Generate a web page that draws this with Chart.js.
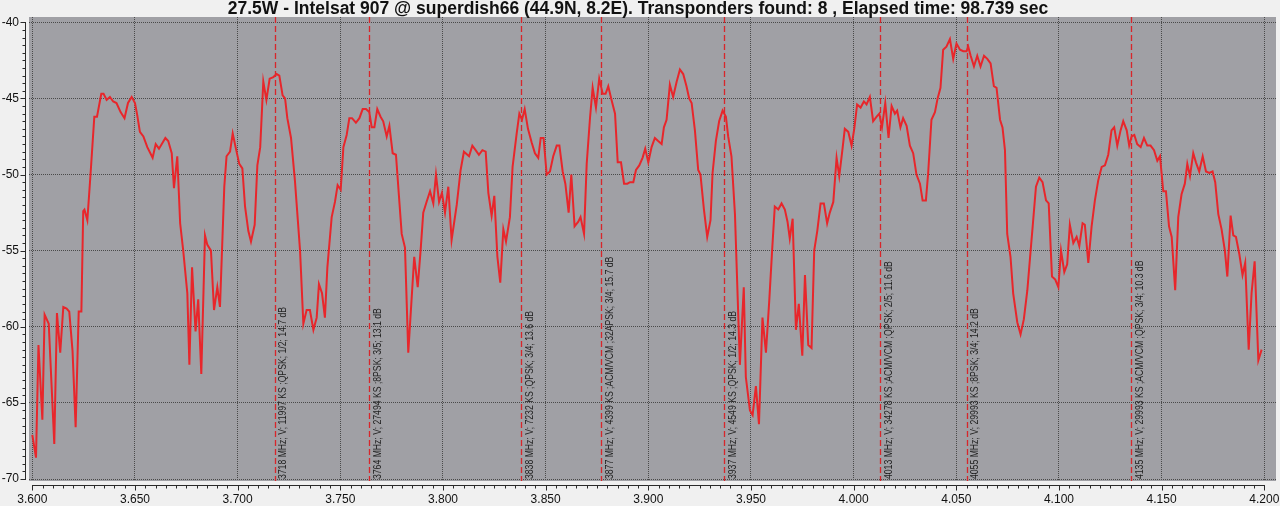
<!DOCTYPE html>
<html>
<head>
<meta charset="utf-8">
<script src="https://cdn.jsdelivr.net/npm/chart.js@4.4.1/dist/chart.umd.min.js"></script>
<style>
html,body{margin:0;padding:0;background:#f0f0f0;}
#wrap{width:1280px;height:506px;}
</style>
</head>
<body>
<div id="wrap"><canvas id="c" width="1280" height="506"></canvas></div>
<script>
const titleText = "27.5W - Intelsat 907 @ superdish66 (44.9N, 8.2E). Transponders found: 8 , Elapsed time: 98.739 sec";

const freqMHz = [
3600.0,3601.8,3603.0,3604.9,3606.0,3608.0,3610.7,3612.0,3613.6,3615.1,3616.7,3618.0,3619.6,3621.1,3622.6,3623.9,3624.8,3625.4,3626.8,3628.4,
3630.2,3631.5,3633.6,3634.7,3636.2,3637.8,3639.4,3641.0,3643.0,3644.9,3646.6,3648.4,3650.0,3651.1,3652.4,3654.1,3656.0,3658.6,3660.1,3661.7,
3663.5,3664.8,3666.2,3667.9,3669.0,3670.6,3672.0,3673.5,3675.5,3676.5,3677.8,3679.5,3680.8,3682.3,3684.1,3685.2,3687.0,3688.5,3690.1,3691.4,
3693.5,3694.6,3696.3,3697.6,3699.0,3700.8,3702.3,3703.6,3705.2,3706.5,3708.3,3709.6,3711.0,3712.5,3714.0,3715.6,3717.4,3719.0,3720.3,3721.9,
3723.1,3724.2,3726.0,3727.9,3730.4,3732.0,3733.6,3735.2,3736.9,3738.5,3739.6,3741.1,3742.5,
3743.7,3745.8,3747.4,3748.7,3750.2,3751.5,3753.1,3754.4,3755.7,3757.6,3759.3,3760.9,3762.5,3764.1,3765.3,3766.6,3768.0,3769.6,3770.9,3772.6,
3773.9,3775.5,3777.1,3779.9,3781.5,3783.1,3786.0,3787.7,3789.1,3790.4,3792.0,3793.7,3795.3,3796.6,3798.1,3799.5,3801.0,3802.6,3804.2,3806.7,
3808.6,3810.2,3812.7,3814.3,3815.9,3817.5,3819.2,3820.8,3822.1,3823.7,3825.0,3826.5,3827.9,3829.4,3830.7,3832.6,3833.9,3835.9,3837.2,3838.5,
3839.8,3841.4,3843.2,3844.8,3846.4,3847.6,3849.0,3850.5,3852.1,3853.7,3855.4,3856.7,3858.3,3859.6,3861.2,3862.5,3864.1,3865.9,3867.0,3868.7,
3870.0,3871.6,3872.9,3874.5,3876.1,3877.8,3879.2,3880.5,3882.1,3883.8,3885.1,3886.7,3888.2,3889.8,3891.1,3892.7,3894.0,3895.6,3897.2,3898.5,
3900.0,3901.6,3903.2,3904.8,3906.5,3907.6,3908.9,3910.5,3912.1,3913.8,3915.4,3917.0,3918.6,3919.9,3921.1,3922.7,3924.3,3925.4,3927.1,3928.7,
3930.3,3931.3,3932.9,3934.5,3936.2,3937.8,3938.9,3940.5,3942.2,3944.6,3946.5,3947.5,3949.5,3950.8,3952.4,3953.9,3955.6,3957.3,3958.9,3960.3,
3961.6,3963.3,3964.9,3966.5,3967.8,3968.9,3970.3,3971.9,3973.3,3975.0,3976.3,3977.9,3979.5,3980.8,3982.3,3983.9,3985.5,3987.1,3988.4,3990.1,
3991.7,3993.0,3994.6,3995.7,3997.4,3999.0,4000.3,4001.7,4003.4,4005.0,4006.3,4007.9,4009.5,4011.2,4012.5,4013.8,4015.4,4017.0,4018.5,4020.1,
4021.2,4022.8,4024.1,4025.8,4027.4,4029.0,4030.6,4032.3,4033.6,4035.2,4036.3,4037.9,4039.6,4040.9,4042.3,4043.6,4045.2,
4046.9,4048.5,4050.1,4051.8,4053.4,4055.0,4055.8,4057.0,4058.6,4060.2,4061.8,4063.5,4065.1,4066.7,4068.3,4069.6,4071.3,4072.5,4073.7,4074.8,
4076.4,4077.7,4079.7,4081.3,4082.9,4084.6,4086.2,4087.2,4088.8,4090.4,4092.0,4093.7,4095.0,4096.6,4098.2,4099.7,4101.0,4102.6,4104.0,4105.3,
4107.0,4108.6,4109.9,4111.5,4112.6,4114.3,4115.9,4117.5,4119.1,4120.8,4122.4,4124.0,4125.6,4126.9,4128.4,4130.0,4131.3,4133.0,4134.2,4135.4,
4136.7,4138.1,4139.8,4141.4,4143.0,4144.6,4146.3,4147.9,4149.2,4150.8,4152.1,4153.6,4154.9,4156.6,4158.1,4159.7,4161.3,4162.5,4163.8,4165.4,
4166.7,4168.3,4170.0,4171.6,4173.2,4174.8,4176.1,4177.6,4179.2,4180.8,4182.0,4183.6,4184.9,4186.2,4187.8,4189.4,4190.7,4192.4,4193.8,4195.3,
4197.1,4198.7
];

const levelDb = [
-67.1,-68.6,-61.2,-66.1,-59.2,-59.8,-67.7,-59.1,-61.7,-58.7,-58.8,-59.0,-61.6,-66.6,-59.0,-59.0,-52.4,-52.3,-53.0,-49.9,
-46.2,-46.2,-44.7,-44.7,-45.1,-44.9,-45.2,-45.3,-45.9,-46.3,-45.3,-44.9,-45.3,-46.1,-47.2,-47.5,-48.2,-48.9,-48.0,-48.3,
-47.9,-47.6,-47.8,-48.6,-50.9,-48.8,-53.2,-55.0,-57.8,-62.5,-56.1,-60.3,-58.2,-63.1,-54.0,-54.6,-55.0,-58.9,-57.4,-58.7,
-50.8,-48.8,-48.5,-47.3,-48.2,-49.3,-49.6,-52.1,-53.7,-54.4,-53.3,-49.4,-48.2,-43.9,-45.1,-43.7,-43.6,-43.4,-43.5,-44.8,
-45.0,-46.3,-47.6,-50.4,-55.0,-59.8,-58.9,-58.9,-60.2,-59.4,-57.2,-57.8,-59.4,
-56.1,-52.8,-51.8,-50.7,-51.0,-48.2,-47.4,-46.3,-46.3,-46.6,-46.3,-45.7,-45.7,-45.9,-46.9,-46.9,-45.7,-46.2,-46.5,-47.5,
-46.8,-48.6,-48.7,-53.9,-54.8,-61.7,-55.4,-57.4,-55.0,-52.5,-51.8,-51.1,-51.9,-50.0,-51.8,-51.2,-52.5,-50.8,-54.3,-52.0,
-49.7,-48.5,-48.8,-48.1,-48.4,-48.7,-48.4,-48.5,-51.2,-52.7,-51.4,-55.4,-57.1,-53.6,-54.4,-52.8,-49.5,-47.3,-46.0,-46.4,
-45.7,-47.0,-47.9,-48.6,-48.9,-47.6,-47.6,-50.0,-49.8,-48.8,-48.1,-48.1,-49.8,-50.6,-52.5,-50.0,-53.4,-53.1,-52.8,-53.9,
-49.3,-46.3,-44.3,-45.6,-43.7,-44.7,-44.7,-44.2,-45.1,-46.0,-49.2,-49.2,-50.6,-50.6,-50.5,-50.5,-49.7,-49.4,-48.9,-48.3,
-49.2,-48.2,-47.6,-47.8,-48.0,-46.9,-46.4,-44.1,-44.9,-43.9,-43.1,-43.4,-44.2,-45.0,-45.3,-47.1,-49.7,-50.0,-52.3,-54.1,
-53.0,-49.9,-47.8,-46.5,-45.8,-46.2,-47.5,-48.8,-52.6,-62.5,-57.4,-63.3,-65.5,-65.8,-63.9,-66.4,-59.4,-61.7,-58.3,-55.0,
-52.1,-52.3,-51.9,-52.3,-53.1,-54.2,-52.9,-60.2,-58.5,-61.9,-56.6,-61.2,-61.4,-55.0,-53.7,-51.9,-51.9,-53.2,-52.5,-51.8,
-48.9,-50.1,-48.3,-47.0,-47.2,-48.1,-47.0,-45.4,-45.6,-45.2,-45.4,-44.9,-46.5,-46.2,-46.0,-46.9,-45.3,-47.6,-45.5,-46.0,
-45.8,-46.9,-46.3,-46.8,-48.1,-48.6,-50.0,-50.6,-51.7,-51.7,-49.9,-46.4,-45.9,-45.0,-44.3,-41.8,-41.6,
-41.1,-42.4,-41.4,-41.8,-41.9,-41.9,-41.6,-42.2,-42.9,-42.2,-42.9,-42.2,-42.4,-42.7,-44.2,-44.3,-46.4,-46.9,-48.4,-53.9,
-55.4,-57.8,-59.7,-60.5,-59.5,-57.6,-55.0,-53.4,-50.8,-50.2,-50.5,-51.7,-51.9,-56.7,-56.9,-57.4,-55.0,-56.4,-55.9,-53.3,
-54.5,-54.1,-54.7,-53.2,-53.3,-55.8,-53.4,-51.7,-50.4,-49.5,-49.4,-48.7,-47.1,-46.9,-48.1,-47.1,-46.5,-47.1,-48.1,-47.5,
-47.4,-48.0,-48.2,-47.6,-48.1,-48.1,-48.4,-49.1,-48.8,-51.1,-51.1,-53.4,-54.1,-57.6,-52.8,-51.3,-50.6,-49.3,-50.1,-48.6,
-49.2,-49.8,-48.8,-49.8,-49.9,-49.8,-50.5,-52.6,-53.6,-55.0,-56.7,-52.7,-54.0,-54.1,-55.2,-56.6,-55.8,-61.5,-57.8,-55.7,
-62.2,-61.5
];

const transponderMHz = [3718, 3764, 3838, 3877, 3937, 4013, 4055, 4135];
const transponderLabels = [
"3718 MHz; V; 11997 KS ;QPSK; 1/2; 14.7 dB",
"3764 MHz; V; 27494 KS ;8PSK; 3/5; 13.1 dB",
"3838 MHz; V; 7232 KS ;QPSK; 3/4; 13.6 dB",
"3877 MHz; V; 4399 KS ;ACM/VCM ;32APSK; 3/4; 15.7 dB",
"3937 MHz; V; 4549 KS ;QPSK; 1/2; 14.3 dB",
"4013 MHz; V; 34278 KS ;ACM/VCM ;QPSK; 2/5; 11.6 dB",
"4055 MHz; V; 29993 KS ;8PSK; 3/4; 14.2 dB",
"4135 MHz; V; 29993 KS ;ACM/VCM ;QPSK; 3/4; 10.3 dB"
];

const xTickGHz = [3.600,3.650,3.700,3.750,3.800,3.850,3.900,3.950,4.000,4.050,4.100,4.150,4.200];
const yTickDb = [-70,-65,-60,-55,-50,-45,-40];
const xMinorStep = 0.005;
const yMinorStep = 0.5;

const points = freqMHz.map((f, i) => ({x: f / 1000, y: levelDb[i]}));

const FONT = "'Liberation Sans', Arial, sans-serif";

const decorPlugin = {
  id: 'decor',
  beforeDraw(chart) {
    const {ctx, chartArea: a} = chart;
    ctx.save();
    ctx.fillStyle = '#f0f0f0';
    ctx.fillRect(0, 0, chart.width, chart.height);
    ctx.fillStyle = '#a0a0a5';
    ctx.fillRect(a.left, a.top, a.right - a.left, a.bottom - a.top);
    ctx.restore();
  },
  beforeDatasetsDraw(chart) {
    const {ctx, chartArea: a, scales} = chart;
    const xs = scales.x;
    ctx.save();
    ctx.strokeStyle = '#d8262b';
    ctx.lineWidth = 1.3;
    ctx.setLineDash([6, 3]);
    transponderMHz.forEach((f) => {
      const px = Math.round(xs.getPixelForValue(f / 1000)) + 0.5;
      ctx.beginPath();
      ctx.moveTo(px, a.top);
      ctx.lineTo(px, a.bottom);
      ctx.stroke();
    });
    ctx.setLineDash([]);
    ctx.fillStyle = '#1e1e1e';
    ctx.font = "10px 'Liberation Sans', Arial, sans-serif";
    ctx.textAlign = 'left';
    ctx.textBaseline = 'middle';
    transponderMHz.forEach((f, i) => {
      const px = xs.getPixelForValue(f / 1000);
      ctx.save();
      ctx.translate(px + 9, a.bottom - 2);
      ctx.rotate(-Math.PI / 2);
      ctx.scale(0.865, 1);
      ctx.fillText(transponderLabels[i], 0, 0);
      ctx.restore();
    });
    ctx.restore();
  },
  afterDraw(chart) {
    const {ctx, chartArea: a, scales} = chart;
    const xs = scales.x, ys = scales.y;
    ctx.save();
    ctx.strokeStyle = '#2a2a2a';
    ctx.lineWidth = 1;
    const axY = a.bottom + 4.5;
    const x0 = xs.getPixelForValue(xTickGHz[0]);
    const x1 = xs.getPixelForValue(xTickGHz[xTickGHz.length - 1]);
    ctx.beginPath();
    ctx.moveTo(Math.round(x0), axY);
    ctx.lineTo(Math.round(x1) + 1, axY);
    ctx.stroke();
    const nx = Math.round((xTickGHz[xTickGHz.length - 1] - xTickGHz[0]) / xMinorStep);
    for (let k = 0; k <= nx; k++) {
      const v = xTickGHz[0] + k * xMinorStep;
      const px = Math.round(xs.getPixelForValue(v)) + 0.5;
      const major = k % 10 === 0;
      ctx.beginPath();
      ctx.moveTo(px, axY);
      ctx.lineTo(px, axY + (major ? 5 : 3));
      ctx.stroke();
    }
    const axX = a.left - 3.5;
    const y0 = ys.getPixelForValue(yTickDb[0]);
    const y1 = ys.getPixelForValue(yTickDb[yTickDb.length - 1]);
    ctx.beginPath();
    ctx.moveTo(axX, Math.round(y0) + 1);
    ctx.lineTo(axX, Math.round(y1));
    ctx.stroke();
    const ny = Math.round((yTickDb[yTickDb.length - 1] - yTickDb[0]) / yMinorStep);
    for (let k = 0; k <= ny; k++) {
      const v = yTickDb[0] + k * yMinorStep;
      const py = Math.round(ys.getPixelForValue(v)) + 0.5;
      const major = k % 10 === 0;
      ctx.beginPath();
      ctx.moveTo(axX, py);
      ctx.lineTo(axX - (major ? 5 : 3), py);
      ctx.stroke();
    }
    ctx.restore();
  }
};

new Chart(document.getElementById('c'), {
  type: 'line',
  data: {
    datasets: [{
      data: points,
      borderColor: '#e8262b',
      borderWidth: 2,
      pointRadius: 0,
      tension: 0,
      fill: false
    }]
  },
  options: {
    responsive: false,
    devicePixelRatio: 1,
    animation: false,
    layout: {padding: {left: 0, right: 4, top: 0, bottom: 0}},
    plugins: {
      legend: {display: false},
      tooltip: {enabled: false},
      title: {
        display: true,
        text: titleText,
        color: '#111111',
        font: {family: FONT, size: 17.5, weight: 'bold', lineHeight: 16 / 17.5},
        padding: {top: 1, bottom: 0}
      }
    },
    scales: {
      x: {
        type: 'linear',
        min: 3.59839,
        max: 4.20570,
        afterBuildTicks: s => { s.ticks = xTickGHz.map(v => ({value: v})); },
        afterFit: s => { s.height = 25; s.paddingLeft = 0; s.paddingRight = 0; },
        ticks: {
          callback: v => Number(v).toFixed(3),
          color: '#111111',
          font: {family: FONT, size: 12},
          padding: 11,
          maxRotation: 0,
          autoSkip: false
        },
        grid: {color: '#4a4a4a', lineWidth: 1, drawTicks: false},
        border: {display: false, dash: [1, 1]}
      },
      y: {
        type: 'linear',
        min: -70.131,
        max: -39.652,
        afterBuildTicks: s => { s.ticks = yTickDb.map(v => ({value: v})); },
        afterFit: s => { s.width = 29; s.paddingTop = 0; s.paddingBottom = 0; },
        ticks: {
          callback: v => String(v),
          color: '#111111',
          font: {family: FONT, size: 12},
          padding: 10,
          autoSkip: false
        },
        grid: {color: '#4a4a4a', lineWidth: 1, drawTicks: false},
        border: {display: false, dash: [1, 1]}
      }
    }
  },
  plugins: [decorPlugin]
});
</script>
</body>
</html>
